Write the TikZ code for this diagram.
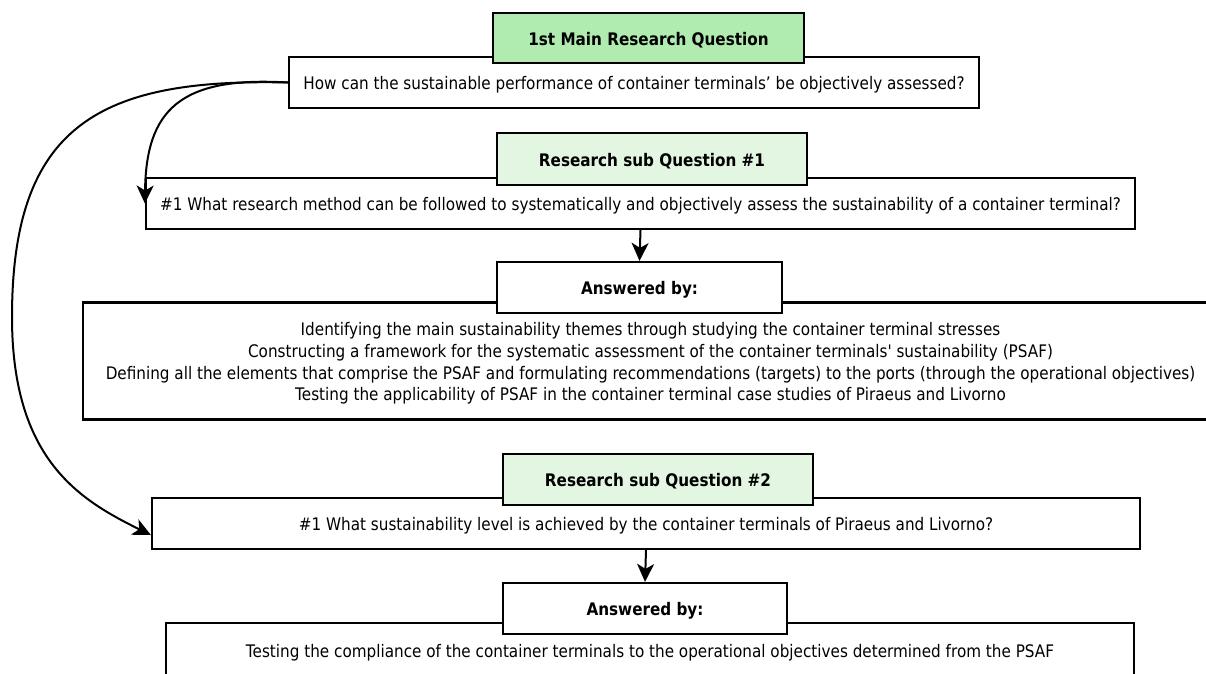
\documentclass[tikz,border=0pt]{standalone}
\usepackage{fontspec}
\setmainfont{DejaVu Sans}[FakeStretch=0.88, Ligatures=TeXOff]
\usetikzlibrary{arrows.meta,calc}
\definecolor{maingreen}{RGB}{176,235,176}
\definecolor{subgreen}{RGB}{226,246,226}
% box text, set a little below the geometric centre
\newcommand{\dropped}[1]{\raisebox{-3pt}[\height][\depth]{\begin{tabular}{@{}c@{}}#1\end{tabular}}}

\begin{document}
\begin{tikzpicture}[x=1pt,y=-1pt,
  box/.style={draw=black, line width=2.2pt, fill=white, inner sep=0pt,
    align=center, font=\fontsize{17.3}{21.7}\selectfont},
  headbox/.style={box, font=\bfseries\fontsize{17.3}{21.7}\selectfont},
  wire/.style={draw=black, line width=2pt,
    -{Stealth[length=18pt,width=17pt,inset=5pt]}}]
\useasboundingbox (0,0) rectangle (1206,673);
\clip (0,0) rectangle (1206,673);

% main research question
\node[box, minimum width=690, minimum height=51] (q0) at (634,82.5)
  {\dropped{How can the sustainable performance of container terminals’ be objectively assessed?}};
\node[headbox, fill=maingreen, minimum width=311, minimum height=50] (g1) at (648.5,38)
  {\dropped{1st Main Research Question}};

% sub question 1
\node[box, minimum width=989, minimum height=51] (q1) at (640.5,203.5)
  {\dropped{\#1 What research method can be followed to systematically and objectively assess the sustainability of a container terminal?}};
\node[headbox, fill=subgreen, minimum width=310, minimum height=52] (g2) at (652,159)
  {\dropped{Research sub Question \#1}};

\node[box, minimum width=1135, minimum height=117] (a1) at (650.5,361)
  {\dropped{Identifying the main sustainability themes through studying the container terminal stresses\\
   Constructing a framework for the systematic assessment of the container terminals' sustainability (PSAF)\\
   Defining all the elements that comprise the PSAF and formulating recommendations (targets) to the ports (through the operational objectives)\\
   Testing the applicability of PSAF in the container terminal case studies of Piraeus and Livorno}};
\node[headbox, minimum width=285, minimum height=51] (a1s) at (639.5,287.5) {\dropped{Answered by:}};

% sub question 2
\node[box, minimum width=988, minimum height=51] (q2) at (646,523.5)
  {\dropped{\#1 What sustainability level is achieved by the container terminals of Piraeus and Livorno?}};
\node[headbox, fill=subgreen, minimum width=310, minimum height=51] (g3) at (658,479.5)
  {\dropped{Research sub Question \#2}};

\node[box, minimum width=968, minimum height=54] (a2) at (650,650)
  {\dropped{Testing the compliance of the container terminals to the operational objectives determined from the PSAF}};
\node[headbox, minimum width=284, minimum height=51] (a2s) at (645,608.5) {\dropped{Answered by:}};

% connectors
\coordinate (q2in) at ([yshift=-11.5pt]q2.west);
\draw[wire] (q1.south) -- (a1s.north);
\draw[wire] (q2.south) -- (a2s.north);
\draw[wire] (q0.west) .. controls (180,76) and (146,110) .. (q1.west);
\draw[wire] (q0.west) .. controls (100,78) and (12,125) .. (12,317)
  .. controls (12,460) and (80,500) .. (q2in);
\end{tikzpicture}
\end{document}
